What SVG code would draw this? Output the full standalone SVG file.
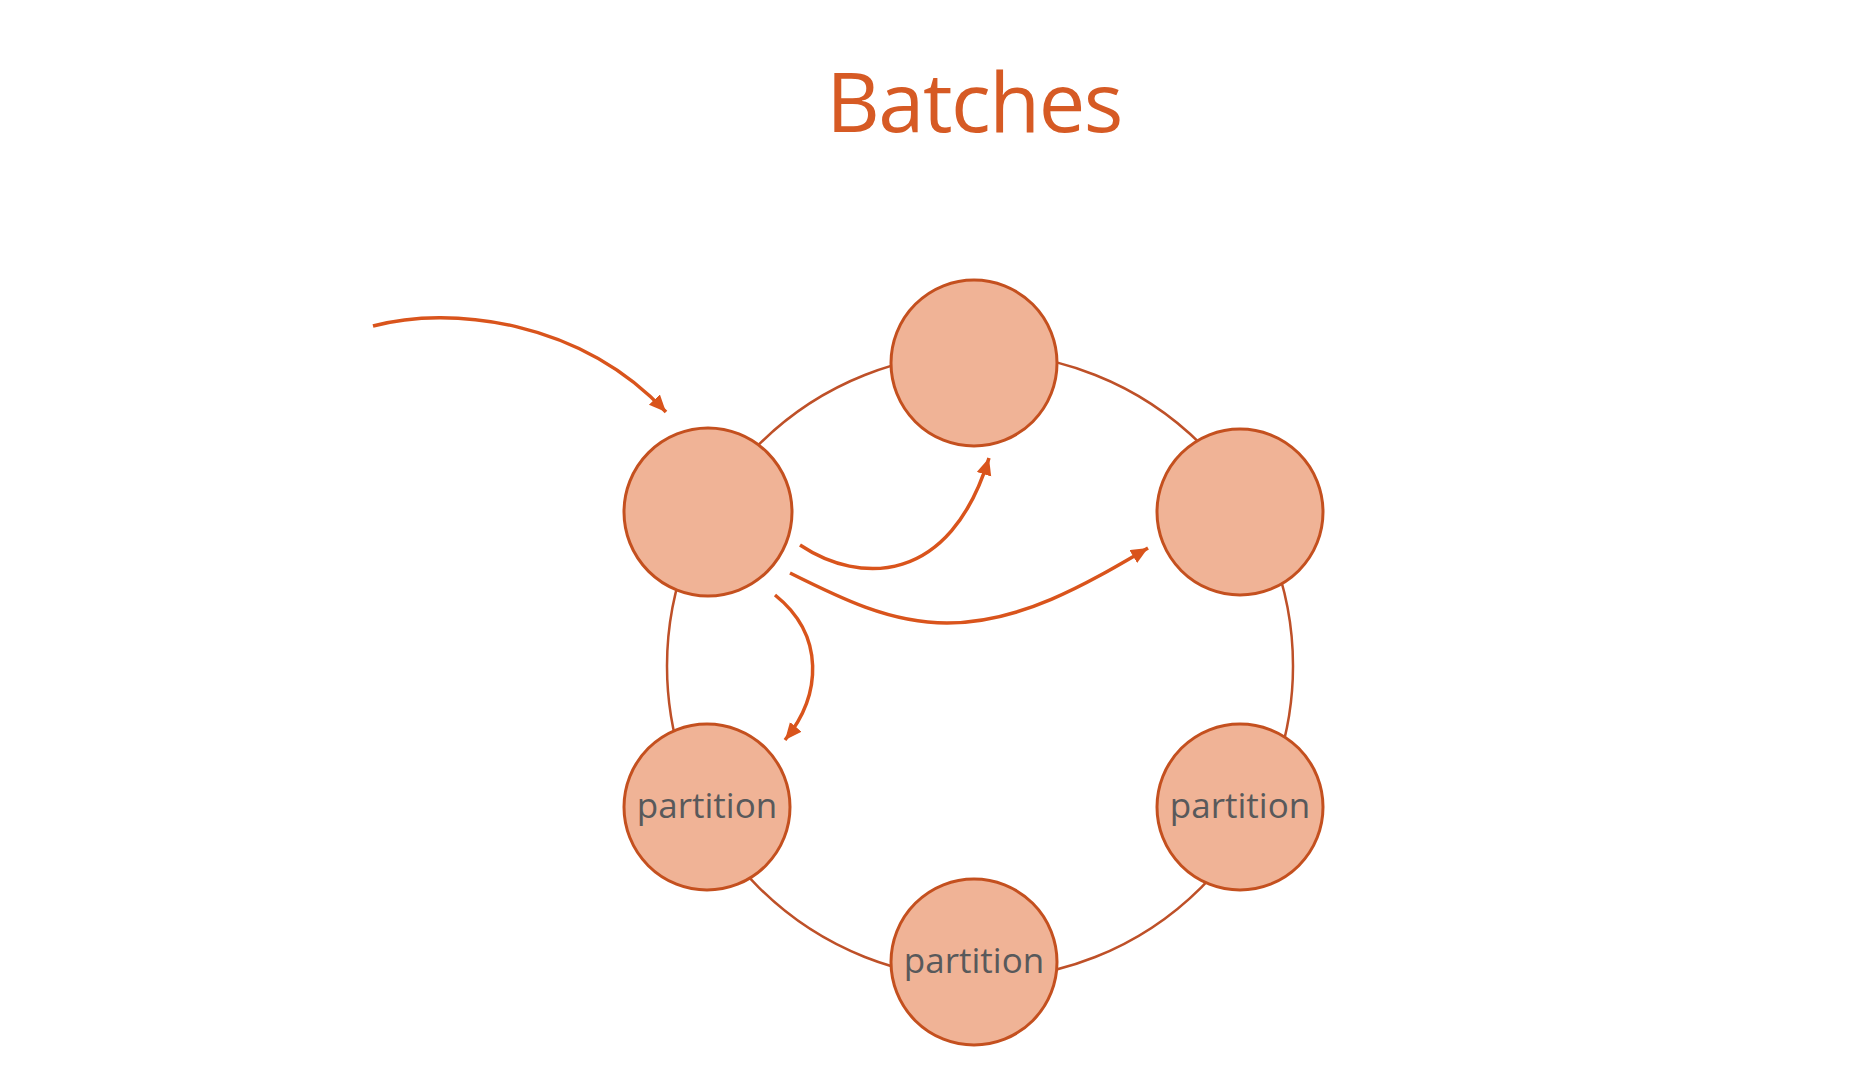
<svg xmlns="http://www.w3.org/2000/svg" width="1866" height="1072" viewBox="0 0 1866 1072">
  <style>
    .title { font-family: "Open Sans", "Liberation Sans", sans-serif; font-size: 83px; fill: #D65A24; letter-spacing: -1.5px; }
    .node { fill: #F0B396; stroke: #C4501F; stroke-width: 3; }
    .label { font-family: "Open Sans", "Liberation Sans", sans-serif; font-size: 35px; fill: #58595B; text-anchor: middle; }
    .ring { fill: none; stroke: #BE5028; stroke-width: 2.5; }
    .arrow { fill: none; stroke: #D9541C; stroke-width: 3.5; marker-end: url(#head); }
  </style>
  <defs>
    <marker id="head" markerUnits="userSpaceOnUse" markerWidth="20" markerHeight="16" refX="17" refY="7.5" orient="auto">
      <path d="M0,0 L17,7.5 L0,15 z" fill="#D9541C"/>
    </marker>
  </defs>
  <rect width="1866" height="1072" fill="#FFFFFF"/>
  <text class="title" x="974" y="132" text-anchor="middle">Batches</text>

  <g id="ring">
    <circle class="ring" cx="980" cy="666" r="313"/>
  </g>

  <g id="node-top"><circle class="node" cx="974" cy="363" r="83"/></g>
  <g id="node-left"><circle class="node" cx="708" cy="512" r="84"/></g>
  <g id="node-right"><circle class="node" cx="1240" cy="512" r="83"/></g>
  <g id="node-bottom-left"><circle class="node" cx="707" cy="807" r="83"/><text class="label" x="707" y="818">partition</text></g>
  <g id="node-bottom-right"><circle class="node" cx="1240" cy="807" r="83"/><text class="label" x="1240" y="818">partition</text></g>
  <g id="node-bottom"><circle class="node" cx="974" cy="962" r="83"/><text class="label" x="974" y="973">partition</text></g>

  <g id="connectors">
    <path class="arrow" d="M373,326 C450,305 580,320 666,412"/>
    <path class="arrow" d="M800,545 C860,585 950,585 989,458"/>
    <path class="arrow" d="M790,573 C840,598 890,623 947,623 C1020,623 1085,585 1148,548"/>
    <path class="arrow" d="M775,595 C825,635 822,695 785,740"/>
  </g>
</svg>
